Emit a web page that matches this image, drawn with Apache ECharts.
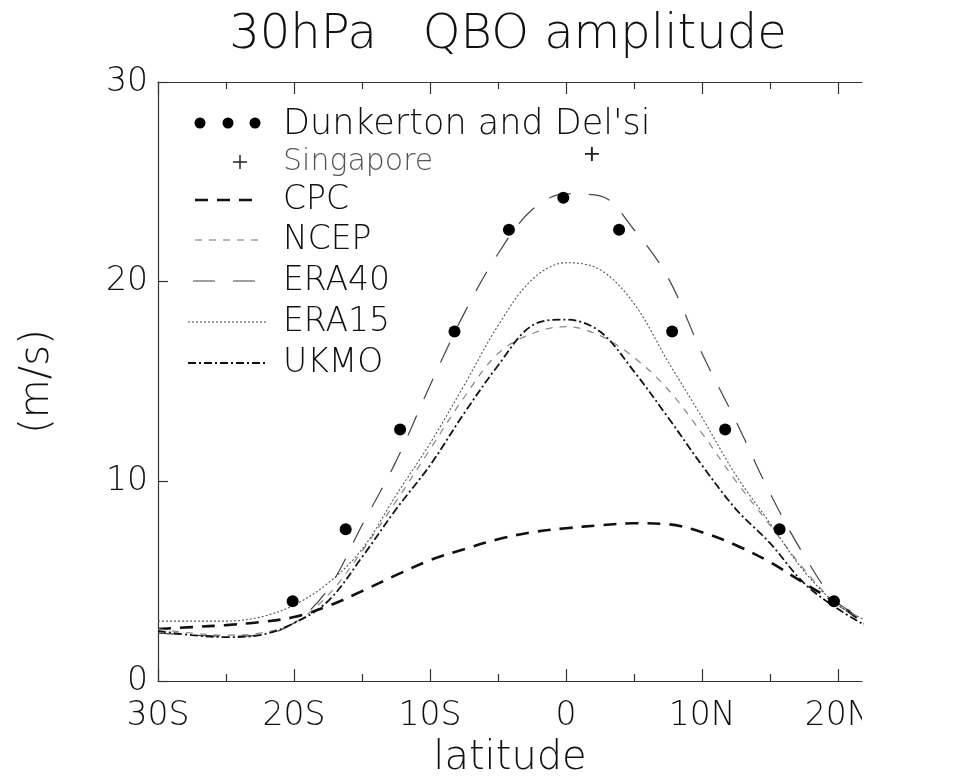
<!DOCTYPE html>
<html>
<head>
<meta charset="utf-8">
<script src="https://cdn.jsdelivr.net/npm/echarts@6/dist/echarts.min.js"></script>
<style>html,body{margin:0;padding:0;background:#fff;}#c{width:965px;height:784px;}</style>
</head>
<body>
<div id="c"></div>
<script>
// ---- data ----
const latGrid = [-30,-27.5,-25,-22.5,-20,-17.5,-15,-12.5,-10,-7.5,-5,-2.5,0,2.5,5,7.5,10,12.5,15,17.5,20,22.5];
const cpc   = [2.6,2.7,2.8,2.95,3.2,3.75,4.5,5.3,6.05,6.6,7.1,7.45,7.65,7.8,7.9,7.85,7.45,6.8,5.95,4.9,3.85,2.6];
const ncep  = [2.6,2.4,2.3,2.4,2.9,4.3,6.5,9.0,11.6,14.2,16.4,17.4,17.75,17.3,16.2,14.6,12.4,10.0,7.8,5.6,3.8,2.9];
const era40 = [2.4,2.3,2.25,2.3,2.9,4.6,7.8,11.0,14.8,18.4,21.4,23.6,24.4,24.3,22.6,20.2,16.4,13.0,9.4,6.3,3.9,3.1];
const era15 = [3.0,3.0,3.0,3.2,3.8,4.9,6.6,9.3,11.9,14.8,17.8,20.1,20.95,20.6,18.9,16.0,13.2,10.3,7.9,5.5,3.8,2.9];
const ukmo  = [2.5,2.3,2.2,2.3,2.9,4.0,6.2,8.6,10.8,13.4,15.8,17.8,18.1,17.5,15.5,13.2,10.8,8.6,6.9,4.9,3.6,2.6];
const dkLat = [-20.1,-16.2,-12.2,-8.2,-4.2,-0.2,3.9,7.8,11.7,15.7,19.7];
const dkVal = [4.0,7.6,12.6,17.5,22.6,24.2,22.6,17.5,12.6,7.6,4.0];
const singLat = [1.9];
const singVal = [26.4];
const xMajor = [-30,-20,-10,0,10,20];
const xMinor = [-25,-15,-5,5,15];
const xTickLabels = ['30S','20S','10S','0','10N','20N'];

// ---- styles ----
const FONT = 'DejaVu Sans';
const FW = 200;
const TXT = '#111';
const styles = {
  CPC:   {color:'#111', width:2.6, type:[13,9]},
  NCEP:  {color:'#888', width:1.2, type:[7,7]},
  ERA40: {color:'#444', width:1.2, type:[22,18]},
  ERA15: {color:'#555', width:1.1, type:[2,2]},
  UKMO:  {color:'#111', width:1.8, type:[8,3,2,3]}
};
const plusPath = 'path://M4.3,0h1.4v4.3h4.3v1.4h-4.3v4.3h-1.4v-4.3h-4.3v-1.4h4.3z';
const pair = (xs, ys) => xs.map((x,i)=>[x, ys[i]]);

function lineSeries(name, vals){
  const s = styles[name];
  return {name, type:'line', data:pair(latGrid, vals), smooth:0.35, symbol:'none',
    lineStyle:{color:s.color, width:s.width, type:s.type}, z:3, silent:true};
}

const chart = echarts.init(document.getElementById('c'), null, {renderer:'canvas'});

const X0 = -30, X1 = 21.76;
function xAx(pos, vals, len, showLine, showLabel){
  return {type:'value', position:pos, min:X0, max:X1, gridIndex:0,
    axisLine:{show:showLine, onZero:false, lineStyle:{color:'#333', width:1.2}},
    axisTick:{show:true, inside:true, length:len, customValues:vals, lineStyle:{color:'#333', width:1.2}},
    axisLabel:{show:showLabel, customValues:xMajor, margin:19,
      fontFamily:FONT, fontWeight:FW, fontSize:33, color:TXT,
      formatter:v=>{const i=xMajor.indexOf(Math.round(v)); return i>=0?xTickLabels[i]:'';}},
    splitLine:{show:false}};
}
const xAxes = [
  Object.assign(xAx('bottom', xMajor, 12, true, true), {name:'latitude', nameLocation:'middle', nameGap:58,
    nameTextStyle:{fontFamily:FONT, fontWeight:FW, fontSize:40, color:TXT}}),
  xAx('bottom', xMinor, 7, false, false),
  xAx('top', xMajor, 12, true, false),
  xAx('top', xMinor, 7, false, false)
];

// legend (drawn with graphics)
const legendX = 283;
const rows = [
  {y:125, label:"Dunkerton and Del'si", kind:'dots'},
  {y:162, label:'Singapore', kind:'plus'},
  {y:200, label:'CPC', kind:'line', x0:195, x1:258},
  {y:240, label:'NCEP', kind:'line', x0:195, x1:258},
  {y:281, label:'ERA40', kind:'line', x0:193, x1:268},
  {y:322, label:'ERA15', kind:'line', x0:188, x1:268},
  {y:363, label:'UKMO', kind:'line', x0:188, x1:268}
];
const graphics = [];
rows.forEach(r=>{
  if(r.kind==='dots'){
    [200,228,255].forEach(cx=>graphics.push({type:'circle', shape:{cx, cy:r.y-2, r:5.5}, style:{fill:'#000'}}));
  } else if(r.kind==='plus'){
    graphics.push({type:'line', shape:{x1:233,y1:r.y,x2:247,y2:r.y}, style:{stroke:'#222', lineWidth:1.5}});
    graphics.push({type:'line', shape:{x1:240,y1:r.y-7,x2:240,y2:r.y+7}, style:{stroke:'#222', lineWidth:1.5}});
  } else {
    const s = styles[r.label];
    graphics.push({type:'line', shape:{x1:r.x0,y1:r.y,x2:r.x1,y2:r.y},
      style:{stroke:s.color, lineWidth:s.width, lineDash:s.type}});
  }
  graphics.push({type:'text', x:legendX, y:r.y, style:{text:r.label, fontFamily:FONT, fontWeight:FW,
    fontSize: r.kind==='plus'?30:(r.kind==='dots'?35:33), fill: r.kind==='plus'?'#555':TXT, textVerticalAlign:'middle'}});
});
// crop at right edge like the reference picture
graphics.push({type:'rect', shape:{x:862, y:690, width:103, height:60}, style:{fill:'#fff'}, z:100});

chart.setOption({
  backgroundColor:'#fff',
  animation:false,
  title:{text:'30hPa   QBO amplitude', left:503, top:7, textAlign:'center',
    textStyle:{fontFamily:FONT, fontSize:48, fontWeight:FW, color:TXT}},
  grid:{left:158, right:103, top:82, bottom:102, containLabel:false},
  xAxis:xAxes,
  yAxis:{type:'value', min:0, max:30, interval:10, name:'(m/s)', nameLocation:'middle', nameGap:100,
    nameRotate:90, nameTextStyle:{fontFamily:FONT, fontWeight:FW, fontSize:40, color:TXT},
    axisLine:{show:true, onZero:false, lineStyle:{color:'#333', width:1.2}},
    axisTick:{show:true, inside:true, length:10, lineStyle:{color:'#333', width:1.2}},
    axisLabel:{fontFamily:FONT, fontWeight:FW, fontSize:33, color:TXT, margin:10},
    splitLine:{show:false}},
  series:[
    lineSeries('CPC', cpc),
    lineSeries('NCEP', ncep),
    lineSeries('ERA40', era40),
    lineSeries('ERA15', era15),
    lineSeries('UKMO', ukmo),
    {name:'Dunkerton and Delisi', type:'scatter', data:pair(dkLat, dkVal), symbol:'circle', symbolSize:12,
      itemStyle:{color:'#000', opacity:1}, z:5, silent:true},
    {name:'Singapore', type:'scatter', data:pair(singLat, singVal), symbol:plusPath, symbolSize:14,
      itemStyle:{color:'#222', opacity:1}, z:5, silent:true}
  ],
  graphic:graphics
});
</script>
</body>
</html>
